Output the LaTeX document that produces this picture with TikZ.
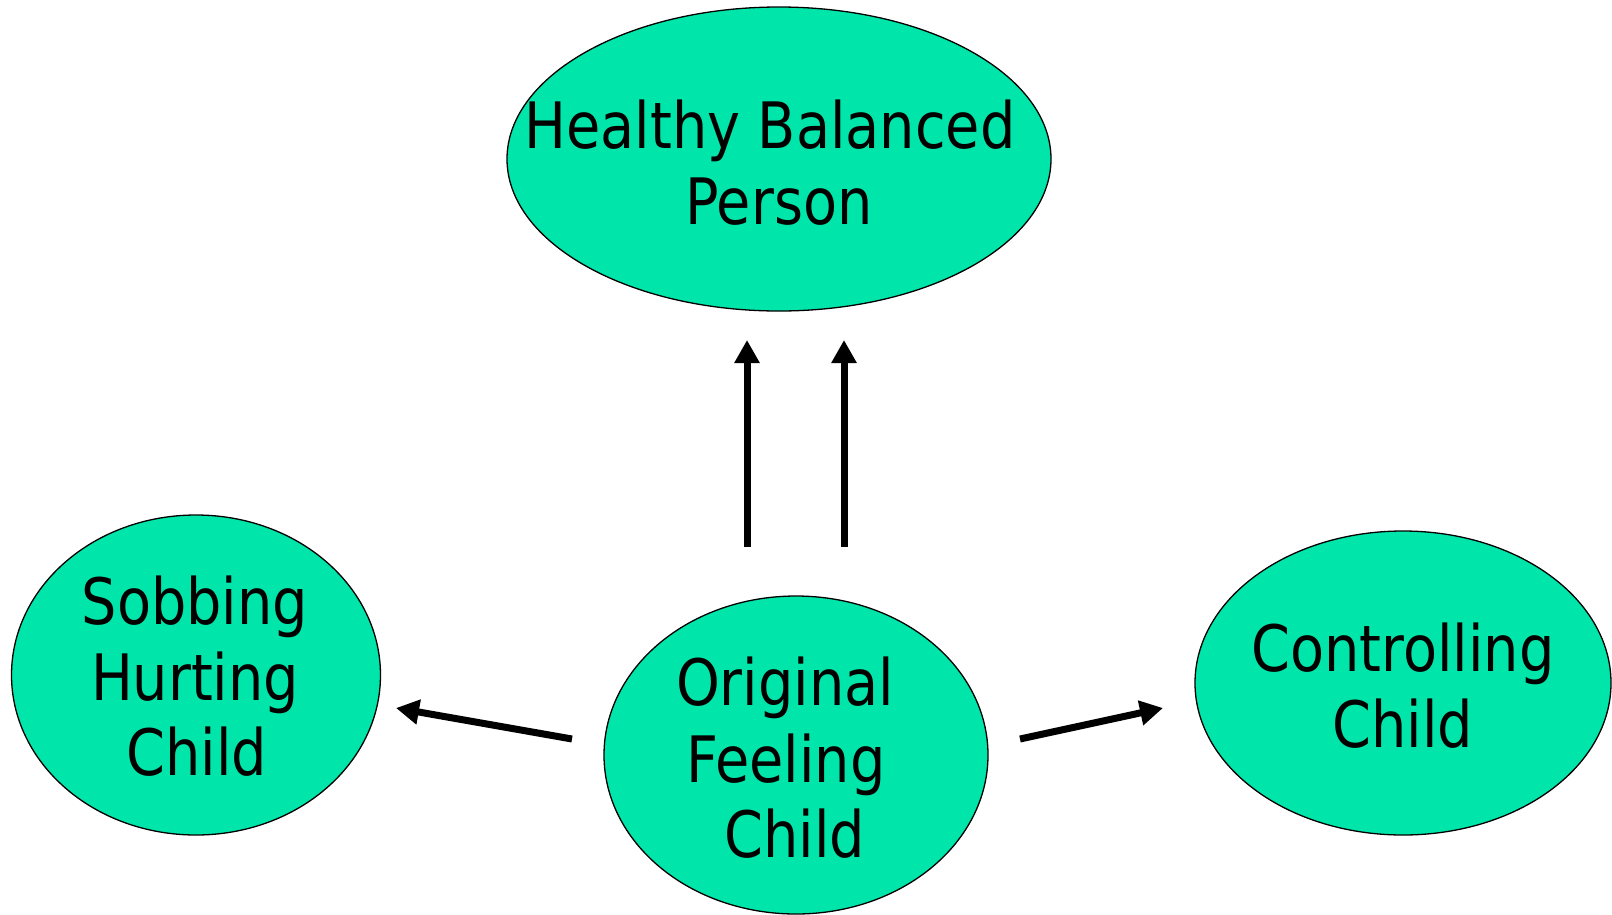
\documentclass[tikz,border=0pt]{standalone}
\usepackage{graphicx}
\usepackage{fontspec}
\setmainfont{DejaVu Sans Condensed}
\usetikzlibrary{shapes.geometric,arrows.meta}
\definecolor{bubble}{RGB}{0,229,170}
\newcommand\lbltext[1]{\scalebox{0.967}[1]{#1}}
\begin{document}
\begin{tikzpicture}[x=1pt,y=-1pt,
  bubblenode/.style={ellipse,draw=black,line width=1.3pt,fill=bubble,inner sep=0pt},
  txt/.style={anchor=base,inner sep=0pt,font=\fontsize{64}{76}\selectfont},
  arr/.style={line width=7pt,-{Triangle[width=24pt,length=23pt]}}]
\useasboundingbox (0,0) rectangle (1612,914);
\node[bubblenode,minimum width=544pt,minimum height=304pt] (top) at (779,159) {};
\node[bubblenode,minimum width=369pt,minimum height=320pt] (left) at (196,675) {};
\node[bubblenode,minimum width=384pt,minimum height=318pt] (mid) at (796,755) {};
\node[bubblenode,minimum width=416pt,minimum height=304pt] (right) at (1403,683) {};
% texts
\node[txt] (t1) at (770,148) {\lbltext{Healthy Balanced}};
\node[txt] (t2) at (779,224) {\lbltext{Person}};
\node[txt] (l1) at (195,624) {\lbltext{Sobbing}};
\node[txt] (l2) at (195,700) {\lbltext{Hurting}};
\node[txt] (l3) at (197,775) {\lbltext{Child}};
\node[txt] (m1) at (785,705) {\lbltext{Original}};
\node[txt] (m2) at (786,782) {\lbltext{Feeling}};
\node[txt] (m3) at (795,857) {\lbltext{Child}};
\node[txt] (r1) at (1403,671) {\lbltext{Controlling}};
\node[txt] (r2) at (1403,747) {\lbltext{Child}};
% arrow ends
\coordinate (a1s) at (747,547);
\coordinate (a1e) at (747,340);
\coordinate (a2s) at (844,547);
\coordinate (a2e) at (844,340);
\coordinate (a3s) at (572,739);
\coordinate (a3e) at (396,708);
\coordinate (a4s) at (1020,739);
\coordinate (a4e) at (1163,708);
\draw[arr] (a1s) -- (a1e);
\draw[arr] (a2s) -- (a2e);
\draw[arr] (a3s) -- (a3e);
\draw[arr] (a4s) -- (a4e);
\end{tikzpicture}
\end{document}
